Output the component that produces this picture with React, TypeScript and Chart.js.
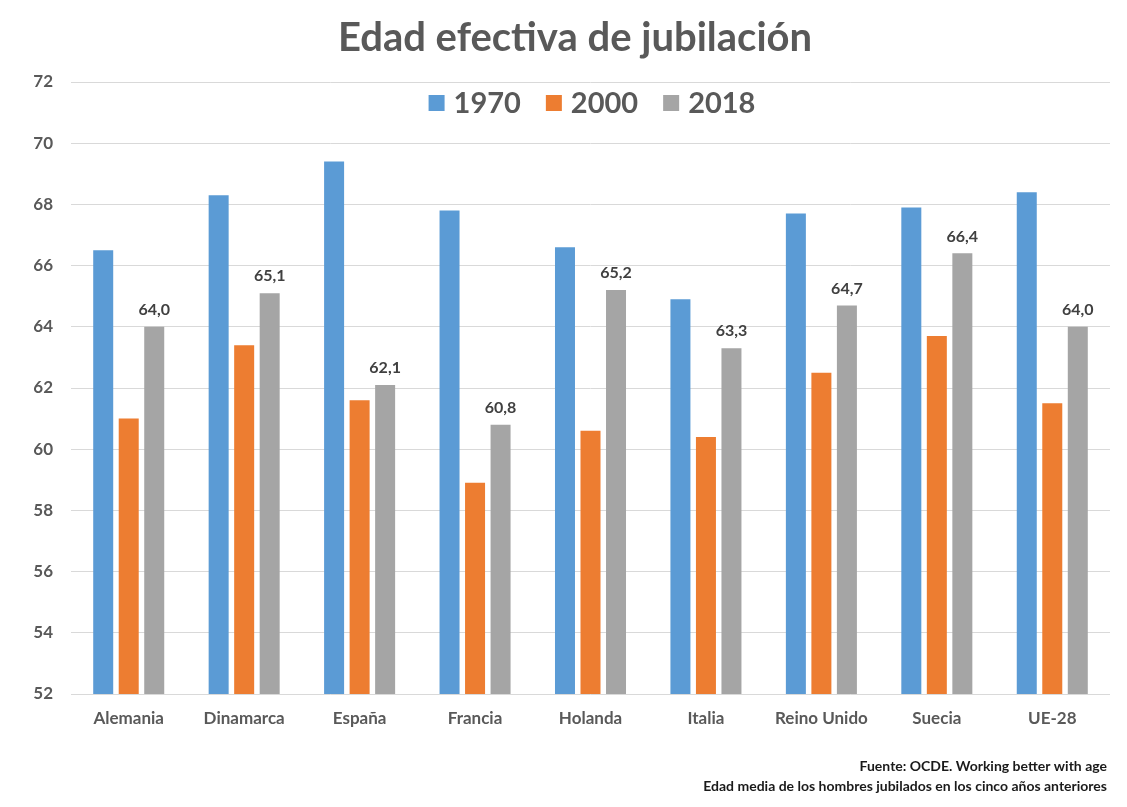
import React, { useEffect, useRef } from "react";
import { Chart, registerables } from "chart.js";

Chart.register(...registerables);

const categories = ["Alemania", "Dinamarca", "España", "Francia", "Holanda", "Italia", "Reino Unido", "Suecia", "UE-28"];
const seriesNames = ["1970", "2000", "2018"];
const values1970 = [66.5, 68.3, 69.4, 67.8, 66.6, 64.9, 67.7, 67.9, 68.4];
const values2000 = [61.0, 63.4, 61.6, 58.9, 60.6, 60.4, 62.5, 63.7, 61.5];
const values2018 = [64.0, 65.1, 62.1, 60.8, 65.2, 63.3, 64.7, 66.4, 64.0];
const seriesColors = ["#5B9BD5", "#ED7D31", "#A5A5A5"];
const yMin = 52;
const yMax = 72;
const yStep = 2;
const titleText = "Edad efectiva de jubilación";
const footnotes = ["Fuente: OCDE. Working better with age", "Edad media de los hombres jubilados en los cinco años anteriores"];

const FONT = "Lato, 'Open Sans', sans-serif";
const TEXT = "#595959";

const decorPlugin = {
  id: "decor",
  afterDraw(chart: any) {
    const ctx = chart.ctx as CanvasRenderingContext2D;
    ctx.save();
    // Title
    ctx.fillStyle = TEXT;
    ctx.font = `bold 40px ${FONT}`;
    ctx.textAlign = "center";
    ctx.textBaseline = "middle";
    ctx.fillText(titleText, 575, 38);

    // Legend
    ctx.font = `bold 29px ${FONT}`;
    const box = 16;
    const gapBoxText = 9;
    const gapItems = 25;
    const widths = seriesNames.map((s) => ctx.measureText(s).width);
    const total = widths.reduce((a, w) => a + box + gapBoxText + w, 0) + gapItems * (seriesNames.length - 1);
    let x = 592 - total / 2;
    const ly = 103;
    ctx.textAlign = "left";
    seriesNames.forEach((s, i) => {
      ctx.fillStyle = seriesColors[i];
      ctx.fillRect(x, ly - box / 2, box, box);
      x += box + gapBoxText;
      ctx.fillStyle = TEXT;
      ctx.fillText(s, x, ly + 1);
      x += widths[i] + gapItems;
    });

    // Data labels for last series
    const meta = chart.getDatasetMeta(2);
    ctx.font = `bold 16px ${FONT}`;
    ctx.fillStyle = "#404040";
    ctx.textAlign = "center";
    ctx.textBaseline = "middle";
    meta.data.forEach((el: any, i: number) => {
      const v = values2018[i];
      ctx.fillText(v.toFixed(1).replace(".", ","), el.x, el.y - 17);
    });

    // Footnotes
    ctx.font = `bold 14px ${FONT}`;
    ctx.fillStyle = "#1a1a1a";
    ctx.textAlign = "right";
    ctx.fillText(footnotes[0], 1107, 766);
    ctx.fillText(footnotes[1], 1107, 786);
    ctx.restore();
  },
};

export default function App() {
  const canvasRef = useRef<HTMLCanvasElement | null>(null);

  useEffect(() => {
    document.body.style.margin = "0";
    const canvas = canvasRef.current;
    if (!canvas) return;
    const chart = new Chart(canvas, {
      type: "bar",
      data: {
        labels: categories,
        datasets: [
          { label: seriesNames[0], data: values1970, backgroundColor: seriesColors[0] },
          { label: seriesNames[1], data: values2000, backgroundColor: seriesColors[1] },
          { label: seriesNames[2], data: values2018, backgroundColor: seriesColors[2] },
        ],
      },
      options: {
        animation: false,
        responsive: true,
        maintainAspectRatio: false,
        layout: { padding: { top: 82, right: 17, left: 0, bottom: 0 } },
        datasets: {
          bar: { categoryPercentage: 0.663, barPercentage: 0.784 },
        },
        plugins: {
          legend: { display: false },
          title: { display: false },
          tooltip: { enabled: false },
        },
        scales: {
          x: {
            grid: { display: false, drawTicks: false },
            border: { display: false },
            ticks: {
              color: TEXT,
              font: { family: FONT, size: 17, weight: "bold" },
              padding: 14,
              autoSkip: false,
              maxRotation: 0,
            },
            afterFit(scale: any) {
              scale.height = 113;
            },
          },
          y: {
            min: yMin,
            max: yMax,
            ticks: {
              stepSize: yStep,
              color: TEXT,
              font: { family: FONT, size: 17, weight: "bold" },
              padding: 18,
            },
            grid: { color: "#D9D9D9", lineWidth: 1, drawTicks: false },
            border: { display: false },
            afterFit(scale: any) {
              scale.width = 71;
            },
          },
        },
      },
      plugins: [decorPlugin],
    });
    return () => chart.destroy();
  }, []);

  return (
    <div style={{ position: "fixed", left: 0, top: 0, width: 1127, height: 807, background: "#fff" }}>
      <canvas ref={canvasRef} />
    </div>
  );
}
